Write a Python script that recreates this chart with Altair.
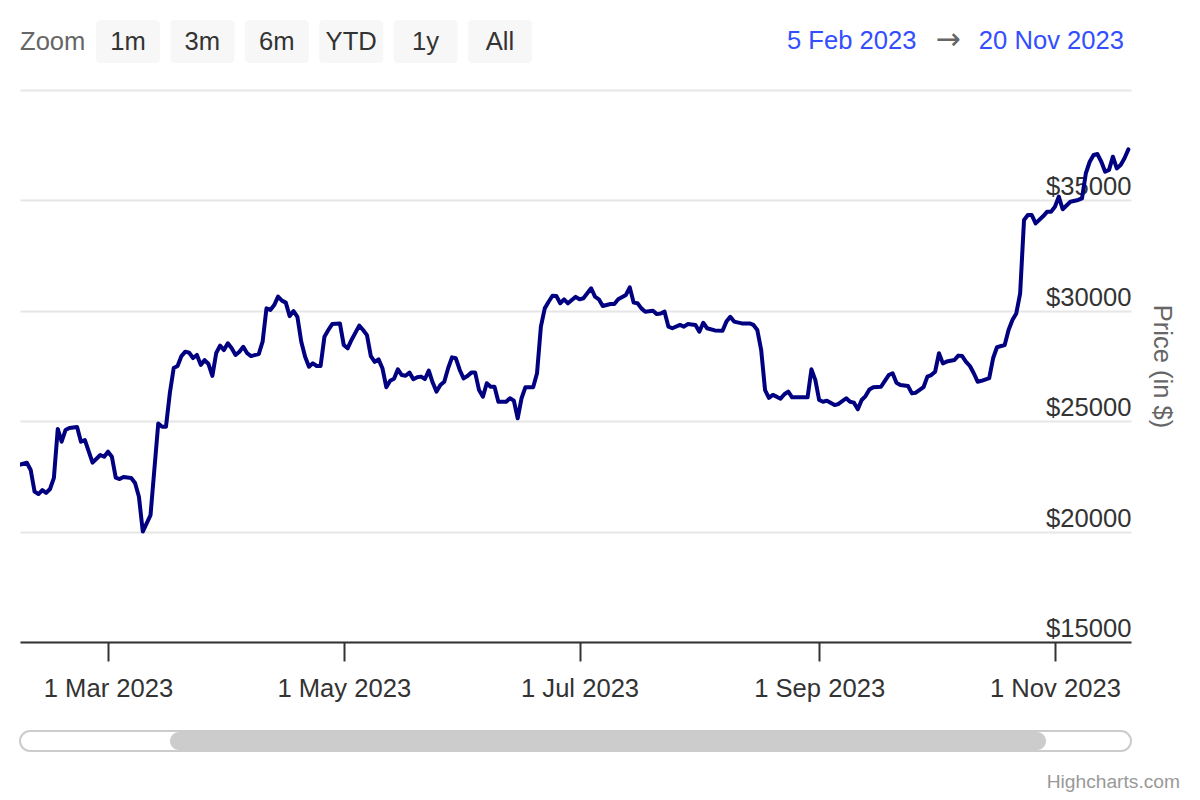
import altair as alt
import pandas as pd

# ---- data (daily price, USD) ----
feb_day = [6, 8, 9, 10, 11, 12, 13, 14, 15, 16, 17, 18, 19, 21, 22, 23, 25, 27, 28]
feb_usd = [23020, 23120, 22790, 21810, 21700, 21880, 21750, 21930, 22430, 24650, 24070, 24600, 24690, 24740, 24070, 24150, 23120, 23470, 23390]
mar_day = [1, 2, 3, 4, 5, 7, 8, 9, 10, 12, 14, 15, 16, 17, 18, 19, 20, 21, 22, 23, 24, 25, 26, 27, 28, 29, 30, 31]
mar_usd = [23620, 23390, 22440, 22380, 22470, 22430, 22200, 21580, 20000, 20750, 24900, 24750, 24750, 26280, 27410, 27500, 27950, 28150, 28100, 27860, 28000, 27550, 27770, 27590, 27050, 28090, 28420, 28220]
apr_day = [1, 2, 3, 4, 5, 6, 7, 9, 10, 11, 12, 13, 14, 15, 16, 17, 18, 19, 20, 21, 22, 23, 24, 25, 26, 27, 28, 30]
apr_usd = [28530, 28300, 28000, 28150, 28370, 28080, 27950, 28040, 28600, 30110, 30040, 30260, 30640, 30460, 30370, 29760, 29990, 29730, 28600, 27920, 27470, 27620, 27500, 27500, 28830, 29130, 29400, 29430]
may_day = [1, 2, 3, 5, 6, 7, 8, 9, 10, 11, 12, 13, 14, 15, 16, 17, 18, 19, 20, 21, 22, 23, 24, 25, 26, 27, 28, 29, 30, 31]
may_usd = [28450, 28300, 28680, 29330, 29130, 28900, 27950, 27690, 27800, 27400, 26540, 26830, 26920, 27350, 27090, 27060, 27200, 26900, 26990, 27020, 26910, 27290, 26750, 26340, 26640, 26790, 27400, 27890, 27850, 27320]
jun_day = [1, 2, 3, 4, 5, 6, 7, 8, 9, 10, 12, 13, 14, 15, 16, 17, 19, 20, 21, 22, 23, 24, 25, 26, 27, 28, 29, 30]
jun_usd = [26940, 27050, 27200, 27200, 26410, 26110, 26720, 26560, 26560, 25880, 25880, 26040, 25930, 25130, 26040, 26540, 26540, 27170, 29280, 30110, 30410, 30680, 30670, 30340, 30520, 30340, 30490, 30630]
jul_day = [1, 2, 4, 5, 6, 7, 9, 10, 11, 13, 14, 15, 16, 17, 18, 20, 21, 22, 23, 24, 25, 27, 28, 29, 31]
jul_usd = [30520, 30570, 31020, 30640, 30520, 30220, 30310, 30310, 30520, 30720, 31060, 30370, 30340, 30110, 29960, 30000, 29850, 29880, 29960, 29280, 29210, 29360, 29280, 29400, 29360]
aug_day = [1, 2, 3, 5, 7, 8, 9, 10, 12, 14, 15, 16, 17, 18, 19, 20, 21, 22, 23, 24, 25, 27, 29, 30, 31]
aug_usd = [29050, 29460, 29210, 29110, 29100, 29510, 29730, 29510, 29430, 29430, 29360, 29130, 28220, 26410, 26060, 26190, 26110, 26020, 26220, 26340, 26080, 26080, 26080, 27350, 26870]
sep_day = [1, 2, 3, 5, 6, 8, 9, 10, 11, 12, 13, 14, 15, 17, 18, 19, 20, 21, 22, 24, 25, 26, 28, 29, 30]
sep_usd = [25960, 25880, 25930, 25730, 25780, 26040, 25880, 25840, 25540, 25960, 26140, 26440, 26540, 26560, 26830, 27090, 27170, 26740, 26640, 26590, 26260, 26290, 26540, 27020, 27090]
oct_day = [1, 2, 3, 4, 6, 7, 8, 9, 10, 11, 12, 13, 15, 16, 17, 19, 20, 21, 22, 23, 24, 25, 26, 27, 29, 30, 31]
oct_usd = [27240, 28080, 27620, 27700, 27770, 27970, 27950, 27690, 27500, 27170, 26790, 26830, 26950, 27850, 28350, 28450, 29130, 29580, 29880, 30790, 34110, 34340, 34340, 33960, 34290, 34490, 34490]
nov_day = [1, 2, 3, 5, 7, 8, 9, 10, 11, 12, 13, 14, 15, 16, 17, 18, 19, 20]
nov_usd = [34710, 35170, 34600, 34940, 35020, 35090, 36230, 36750, 37060, 37100, 36750, 36300, 36380, 36980, 36450, 36600, 36910, 37310]

y_ticks = [15000, 20000, 25000, 30000, 35000, 40000]
x_tick_months = [3, 5, 7, 9, 11]
buttons = ["1m", "3m", "6m", "YTD", "1y", "All"]
range_from = "5 Feb 2023"
range_to = "20 Nov 2023"

rows = []
for m, days, usd in [(2, feb_day, feb_usd), (3, mar_day, mar_usd), (4, apr_day, apr_usd),
                     (5, may_day, may_usd), (6, jun_day, jun_usd), (7, jul_day, jul_usd),
                     (8, aug_day, aug_usd), (9, sep_day, sep_usd), (10, oct_day, oct_usd),
                     (11, nov_day, nov_usd)]:
    for d, p in zip(days, usd):
        rows.append({"date": f"2023-{m:02d}-{d:02d}", "price": p})
df = pd.DataFrame(rows)

W, H = 1111, 552
FONT = "Liberation Sans"
FS = 25.6

x_domain = [alt.DateTime(year=2023, month=2, date=6, hours=5, minutes=30, utc=True),
            alt.DateTime(year=2023, month=11, date=20, hours=16, minutes=20, utc=True)]
x_vals = [alt.DateTime(year=2023, month=m, date=1, utc=True) for m in x_tick_months]

line = alt.Chart(df).mark_line(
    color="#000080", strokeWidth=4, strokeJoin="round", strokeCap="round", clip=True
).encode(
    x=alt.X("date:T",
            scale=alt.Scale(type="utc", domain=x_domain),
            axis=alt.Axis(values=x_vals, format="%-d %b %Y", title=None, grid=False,
                          domainColor="#333333", domainWidth=2,
                          tickColor="#333333", tickWidth=2, tickSize=19,
                          labelPadding=15, labelFontSize=FS, labelColor="#333333",
                          labelFlush=False, labelOverlap=False)),
    y=alt.Y("price:Q",
            scale=alt.Scale(domain=[15000, 40000], nice=False, zero=False),
            axis=alt.Axis(orient="right", values=y_ticks,
                          labelExpr="datum.value >= 40000 ? '' : '$' + datum.value",
                          grid=True, gridColor="#e6e6e6", gridWidth=2,
                          domain=False, ticks=False,
                          labelAlign="right", labelBaseline="alphabetic",
                          labelPadding=0, labelOffset=-5.5,
                          labelFontSize=FS, labelColor="#333333",
                          labelOverlap=False, labelFlush=False,
                          title="Price (in $)", titleAngle=90, titleX=30, titleY=H / 2,
                          titleAlign="center", titleBaseline="middle",
                          titleFontSize=FS, titleColor="#666666", titleFontWeight="normal")),
)

one = pd.DataFrame({"k": [0]})


def txt(s, x, y, size=FS, color="#333333", align="left", font=FONT):
    return alt.Chart(one).mark_text(
        text=s, align=align, baseline="middle", font=font, fontSize=size, color=color
    ).encode(x=alt.value(x), y=alt.value(y))


def box(x1, x2, y1, y2, fill, stroke=None, sw=0, r=0):
    kw = dict(fill=fill, cornerRadius=r)
    if stroke:
        kw.update(stroke=stroke, strokeWidth=sw)
    return alt.Chart(one).mark_rect(**kw).encode(
        x=alt.value(x1), x2=alt.value(x2), y=alt.value(y1), y2=alt.value(y2))


decor = []
# range selector
decor.append(txt("Zoom", 0, -48, color="#666666"))
for i, b in enumerate(buttons):
    left = 76 + 74.4 * i
    decor.append(box(left, left + 64, -70, -27, "#f7f7f7", r=4))
    decor.append(txt(b, left + 32, -48, align="center"))
# date inputs
decor.append(txt(range_from, 767, -49, color="#334eff"))
decor.append(txt("\u2192", 928, -50, size=30, color="#666666", align="center", font="DejaVu Sans"))
decor.append(txt(range_to, 1104, -49, color="#334eff", align="right"))
# scrollbar
decor.append(box(0, W, 641, 661, "#ffffff", stroke="#cccccc", sw=2, r=10))
decor.append(box(150, 1026, 642, 660, "#cccccc", r=9))
# credits
decor.append(txt("Highcharts.com", 1160, 692, size=19.2, color="#999999", align="right"))

chart = alt.layer(line, *decor).properties(
    width=W, height=H,
    padding={"left": 12, "top": 82, "right": 60, "bottom": 150},
    autosize=alt.AutoSizeParams(type="none"),
).configure(font=FONT).configure_view(stroke=None)

chart.save("out.html", embed_options={"renderer": "svg", "actions": False})
